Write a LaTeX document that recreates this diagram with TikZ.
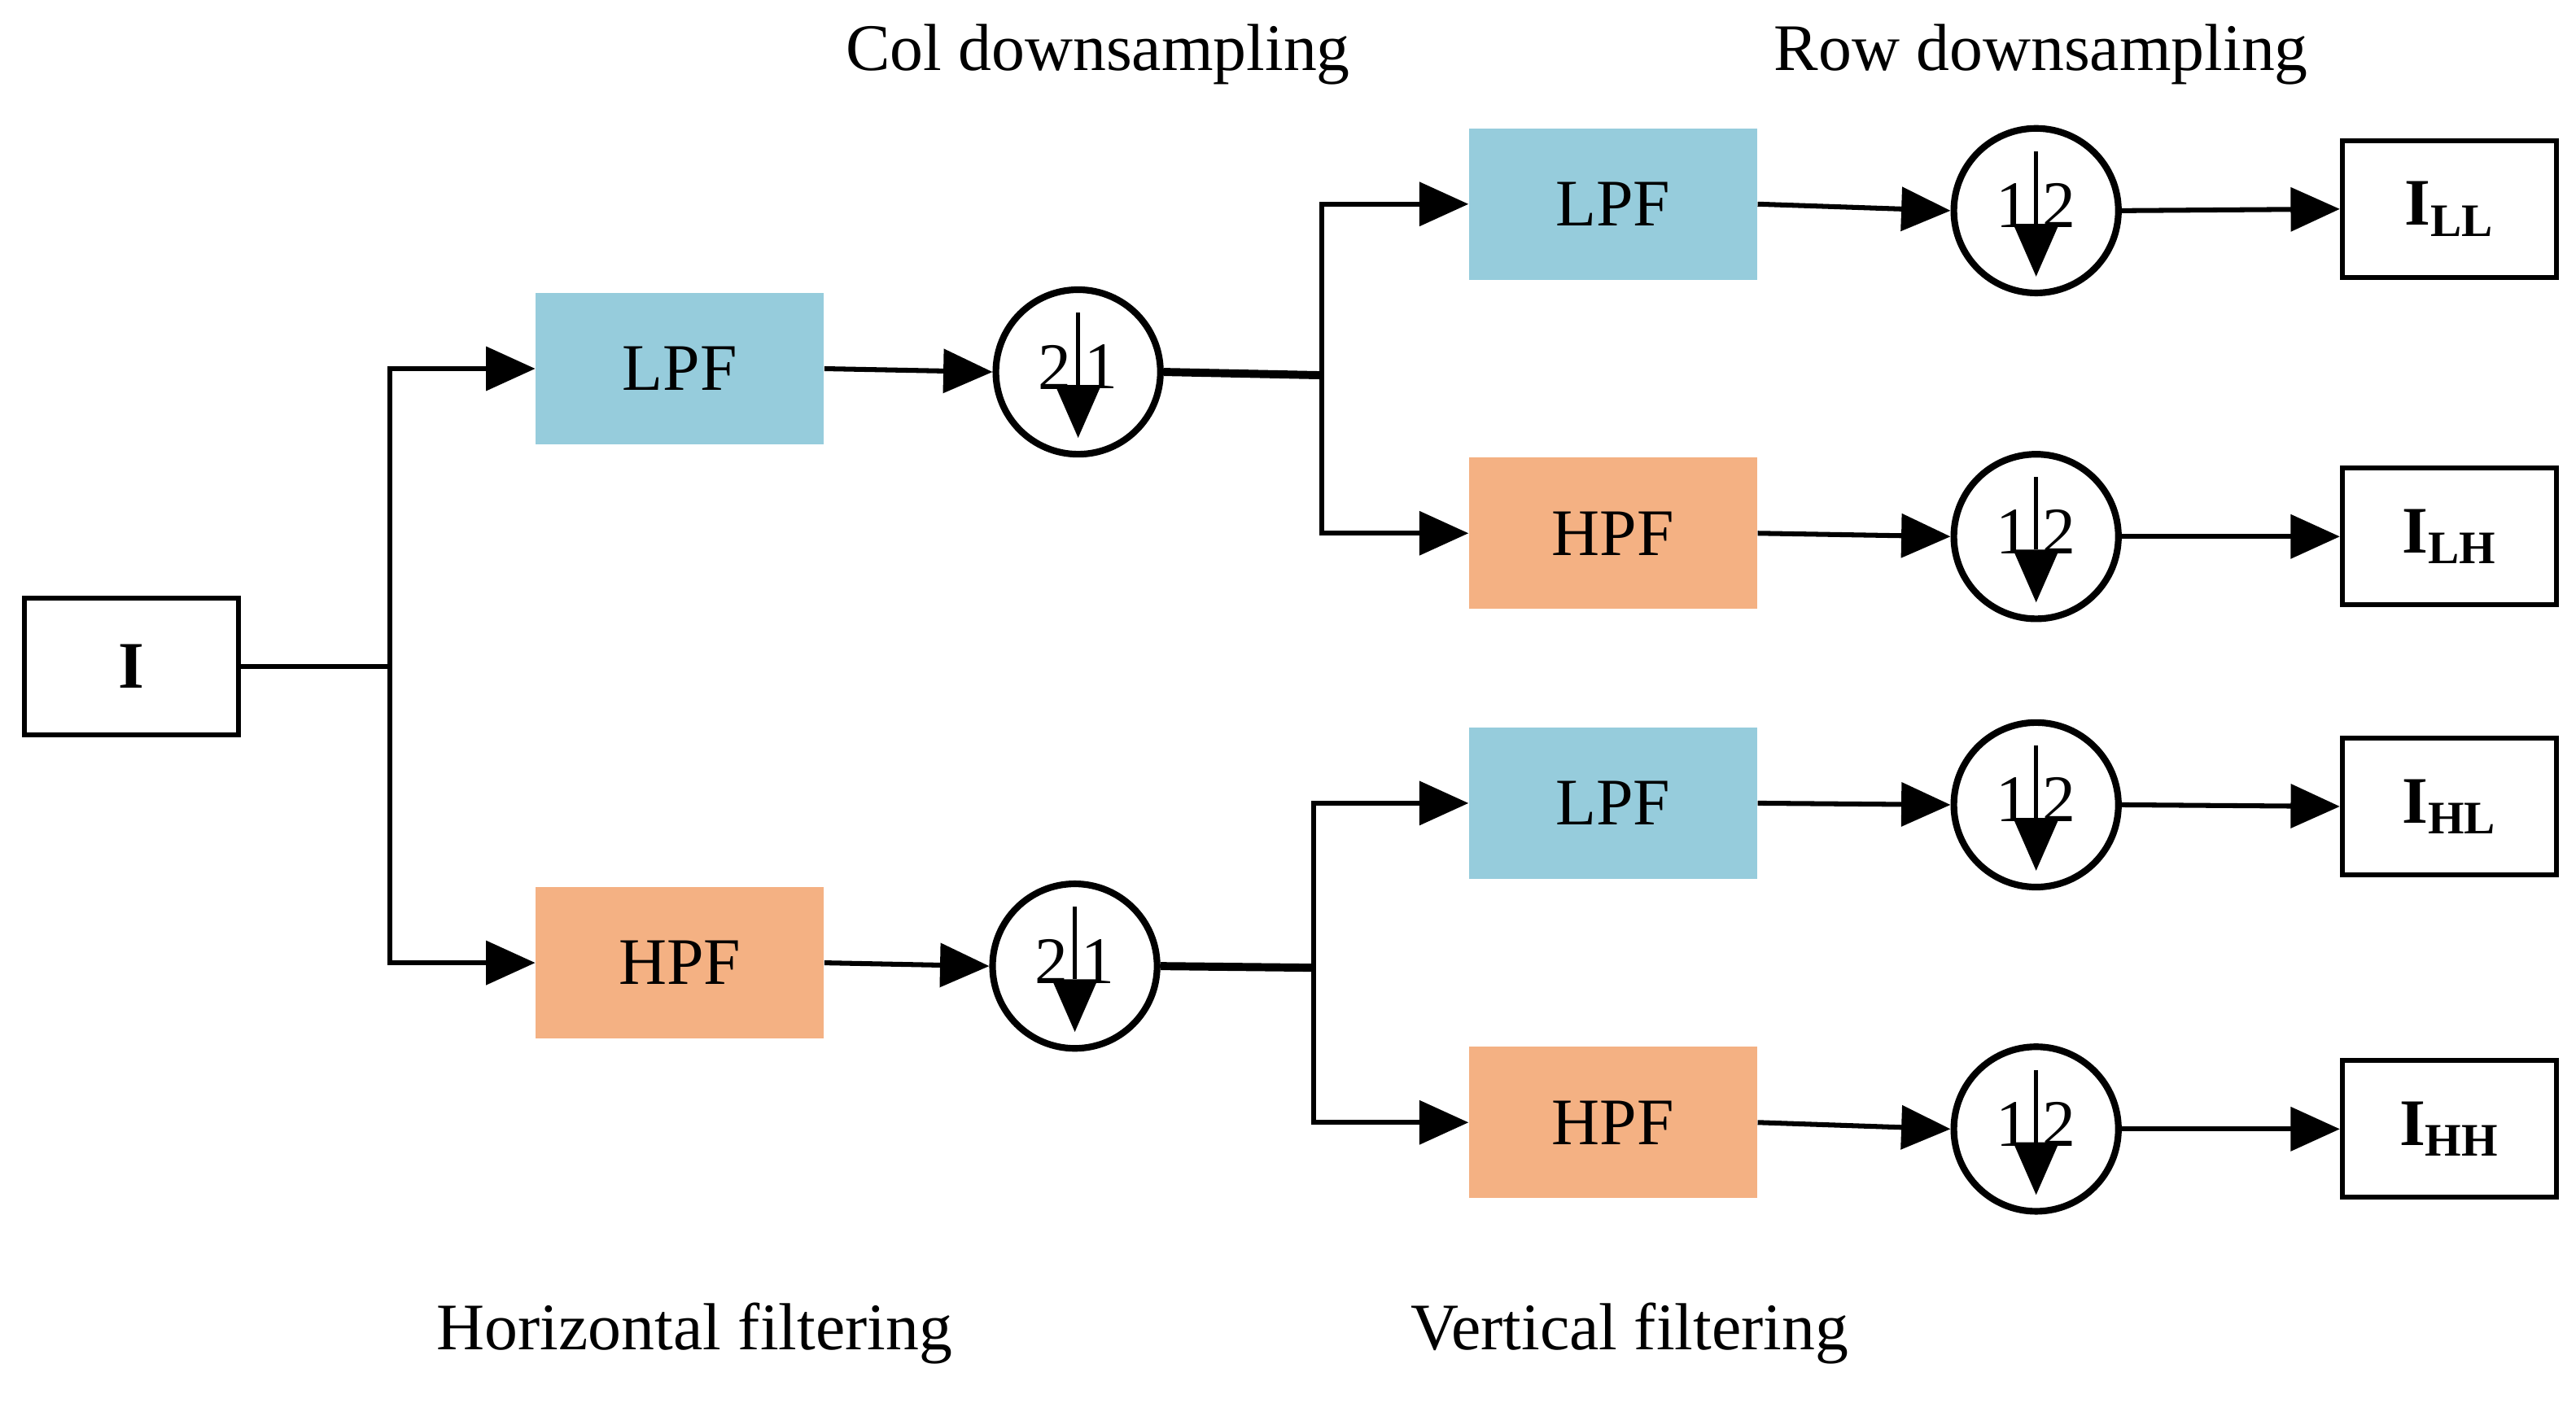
\documentclass[tikz,border=0pt]{standalone}
\usepackage{fontspec}
\setmainfont{Liberation Serif}
\usetikzlibrary{arrows.meta}
\definecolor{lblue}{HTML}{96CCDC}
\definecolor{lorange}{HTML}{F4B183}
\begin{document}
\begin{tikzpicture}[x=0.02cm,y=-0.02cm,
  txt/.style={font=\fontsize{23}{26}\selectfont},
  filt/.style={txt,minimum width=3.5cm,minimum height=1.84cm,inner sep=0},
  obox/.style={draw,line width=1.7pt,minimum width=2.6cm,minimum height=1.66cm,inner sep=0,font=\fontsize{23}{26}\selectfont\bfseries},
  dsc/.style={circle,draw,line width=2.3pt,minimum size=2cm,inner sep=0},
  ln/.style={line width=1.7pt},
  tk/.style={line width=2.8pt},
  ar/.style={ln,-{Triangle[length=17pt,width=15pt]}}]
\useasboundingbox (0,0) rectangle (1565,852);
\newcommand{\dsnode}[5]{%
  \node[dsc] (#1) at (#2,#3) {};
  \node[txt,anchor=center] at (#2-14,#3-3) {#4};
  \node[txt,anchor=center] at (#2+14,#3-3) {#5};
  \draw[line width=1.3pt] (#2,#3-36) -- (#2,#3+8);
  \fill (#2-14,#3+8) -- (#2+14,#3+8) -- (#2,#3+40) -- cycle;}
\node[obox] (I) at (80,405) {I};
\node[filt,fill=lblue] (L1) at (413,224) {LPF};
\node[filt,fill=lorange] (H1) at (413,585) {HPF};
\dsnode{D1}{655}{226}{2}{1}
\dsnode{D2}{653}{587}{2}{1}
\node[filt,fill=lblue] (LL) at (980,124) {LPF};
\node[filt,fill=lorange] (LH) at (980,324) {HPF};
\node[filt,fill=lblue] (HL) at (980,488) {LPF};
\node[filt,fill=lorange] (HH) at (980,682) {HPF};
\dsnode{E1}{1237}{128}{1}{2}
\dsnode{E2}{1237}{326}{1}{2}
\dsnode{E3}{1237}{489}{1}{2}
\dsnode{E4}{1237}{686}{1}{2}
\node[obox] (O1) at (1488,127) {I\textsubscript{LL}};
\node[obox] (O2) at (1488,326) {I\textsubscript{LH}};
\node[obox] (O3) at (1488,490) {I\textsubscript{HL}};
\node[obox] (O4) at (1488,686) {I\textsubscript{HH}};
\coordinate (J0) at (237,405);
\coordinate (J1) at (803,228);
\coordinate (J2) at (798,588);
\draw[ln] (I.east) -- (J0);
\draw[ar] (J0) |- (L1.west);
\draw[ar] (J0) |- (H1.west);
\draw[ar] (L1.east) -- (D1.west);
\draw[ar] (H1.east) -- (D2.west);
\draw[tk] (D1.east) -- (J1);
\draw[tk] (D2.east) -- (J2);
\draw[ar] (J1) |- (LL.west);
\draw[ar] (J1) |- (LH.west);
\draw[ar] (J2) |- (HL.west);
\draw[ar] (J2) |- (HH.west);
\draw[ar] (LL.east) -- (E1.west);
\draw[ar] (LH.east) -- (E2.west);
\draw[ar] (HL.east) -- (E3.west);
\draw[ar] (HH.east) -- (E4.west);
\draw[ar] (E1.east) -- (O1.west);
\draw[ar] (E2.east) -- (O2.west);
\draw[ar] (E3.east) -- (O3.west);
\draw[ar] (E4.east) -- (O4.west);
\node[txt] (t1) at (667,33) {Col downsampling};
\node[txt] (t2) at (1240,33) {Row downsampling};
\node[txt] (t3) at (422,810) {Horizontal filtering};
\node[txt] (t4) at (990,810) {Vertical filtering};
\end{tikzpicture}
\end{document}
